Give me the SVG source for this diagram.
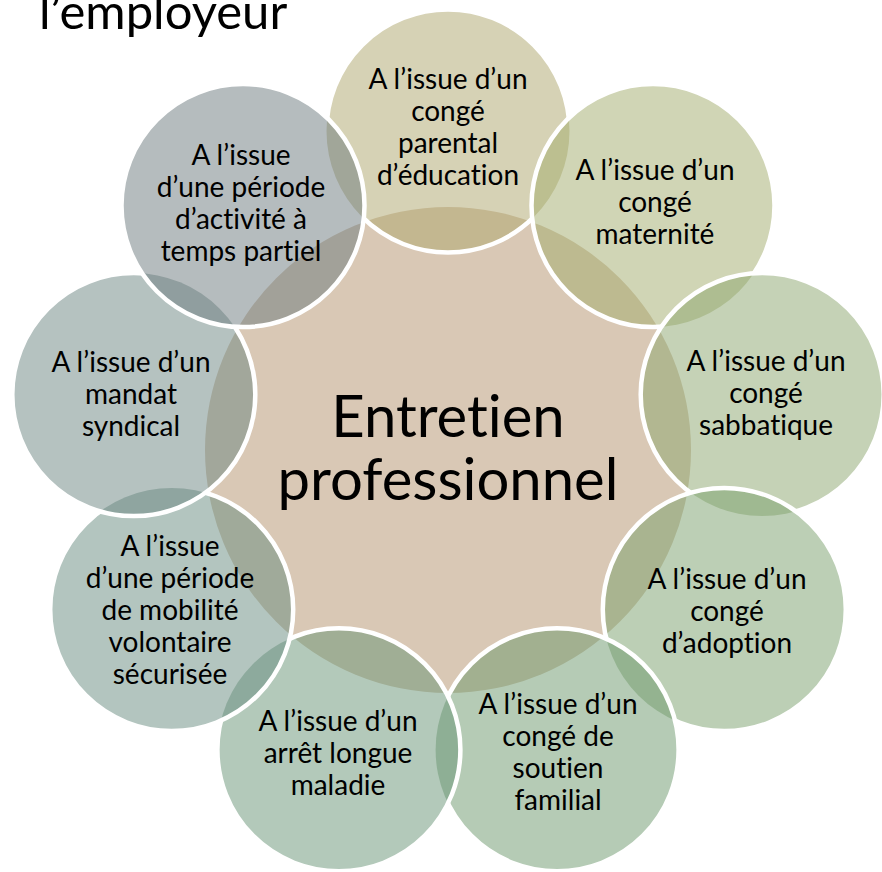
<svg xmlns="http://www.w3.org/2000/svg" width="882" height="872" viewBox="0 0 882 872">
  <style>
    .hub { fill: #D9C8B5; }
    .disc { fill-opacity: 0.5; }
    .rim { fill: none; stroke: #FFFFFF; stroke-width: 4.5; }
    text { font-family: Lato, "Open Sans", sans-serif; fill: #000; font-variant-ligatures: none; font-feature-settings: "liga" 0, "clig" 0; }
    .lbl { font-size: 28px; text-anchor: middle; }
    .hubtxt { font-size: 58px; text-anchor: middle; }
    .title { font-size: 49px; }
  </style>
  <defs>
    <!-- each rim is hidden where the next disc (drawn above it) lies -->
    <mask id="m0" maskUnits="userSpaceOnUse" x="0" y="0" width="882" height="872">
      <rect width="882" height="872" fill="#fff"/>
      <circle cx="653" cy="205.6" r="121.5" fill="#000"/>
      <circle cx="243" cy="205.6" r="121.5" fill="#000"/>
    </mask>
    <mask id="m1" maskUnits="userSpaceOnUse" x="0" y="0" width="882" height="872">
      <rect width="882" height="872" fill="#fff"/>
      <circle cx="762.2" cy="394.6" r="121.5" fill="#000"/>
    </mask>
    <mask id="m2" maskUnits="userSpaceOnUse" x="0" y="0" width="882" height="872">
      <rect width="882" height="872" fill="#fff"/>
      <circle cx="724.3" cy="609.5" r="121.5" fill="#000"/>
    </mask>
    <mask id="m3" maskUnits="userSpaceOnUse" x="0" y="0" width="882" height="872">
      <rect width="882" height="872" fill="#fff"/>
      <circle cx="557.1" cy="749.8" r="121.5" fill="#000"/>
    </mask>
    <mask id="m4" maskUnits="userSpaceOnUse" x="0" y="0" width="882" height="872">
      <rect width="882" height="872" fill="#fff"/>
      <circle cx="338.9" cy="749.8" r="121.5" fill="#000"/>
    </mask>
    <mask id="m5" maskUnits="userSpaceOnUse" x="0" y="0" width="882" height="872">
      <rect width="882" height="872" fill="#fff"/>
      <circle cx="171.7" cy="609.5" r="121.5" fill="#000"/>
    </mask>
    <mask id="m6" maskUnits="userSpaceOnUse" x="0" y="0" width="882" height="872">
      <rect width="882" height="872" fill="#fff"/>
      <circle cx="133.8" cy="394.6" r="121.5" fill="#000"/>
    </mask>
    <mask id="m7" maskUnits="userSpaceOnUse" x="0" y="0" width="882" height="872">
      <rect width="882" height="872" fill="#fff"/>
      <circle cx="243" cy="205.6" r="121.5" fill="#000"/>
    </mask>
  </defs>

  <rect width="882" height="872" fill="#FFFFFF"/>

  <text class="title" x="39" y="29">l’employeur</text>

  <g id="hub">
    <circle class="hub" cx="448" cy="450" r="243"/>
  </g>

  <g id="conge-parental">
    <circle class="disc" cx="448" cy="131" r="121.5" fill="#ADA56B"/>
    <circle class="rim" cx="448" cy="131" r="121.5" mask="url(#m0)"/>
    <text class="lbl"><tspan x="448" y="89">A l’issue d’un</tspan><tspan x="448" y="121">congé</tspan><tspan x="448" y="153">parental</tspan><tspan x="448" y="185">d’éducation</tspan></text>
  </g>

  <g id="conge-maternite">
    <circle class="disc" cx="653" cy="205.6" r="121.5" fill="#A1AB6B"/>
    <circle class="rim" cx="653" cy="205.6" r="121.5" mask="url(#m1)"/>
    <text class="lbl"><tspan x="655" y="180">A l’issue d’un</tspan><tspan x="655" y="212">congé</tspan><tspan x="655" y="244">maternité</tspan></text>
  </g>

  <g id="conge-sabbatique">
    <circle class="disc" cx="762.2" cy="394.6" r="121.5" fill="#8BA56D"/>
    <circle class="rim" cx="762.2" cy="394.6" r="121.5" mask="url(#m2)"/>
    <text class="lbl"><tspan x="766" y="371">A l’issue d’un</tspan><tspan x="766" y="403">congé</tspan><tspan x="766" y="435">sabbatique</tspan></text>
  </g>

  <g id="conge-adoption">
    <circle class="disc" cx="724.3" cy="609.5" r="121.5" fill="#799F6B"/>
    <circle class="rim" cx="724.3" cy="609.5" r="121.5" mask="url(#m3)"/>
    <text class="lbl"><tspan x="727" y="589">A l’issue d’un</tspan><tspan x="727" y="621">congé</tspan><tspan x="727" y="653">d’adoption</tspan></text>
  </g>

  <g id="conge-soutien-familial">
    <circle class="disc" cx="557.1" cy="749.8" r="121.5" fill="#6B976B"/>
    <circle class="rim" cx="557.1" cy="749.8" r="121.5" mask="url(#m4)"/>
    <text class="lbl"><tspan x="558" y="714">A l’issue d’un</tspan><tspan x="558" y="746">congé de</tspan><tspan x="558" y="778">soutien</tspan><tspan x="558" y="810">familial</tspan></text>
  </g>

  <g id="arret-longue-maladie">
    <circle class="disc" cx="338.9" cy="749.8" r="121.5" fill="#679375"/>
    <circle class="rim" cx="338.9" cy="749.8" r="121.5" mask="url(#m5)"/>
    <text class="lbl"><tspan x="338" y="731">A l’issue d’un</tspan><tspan x="338" y="763">arrêt longue</tspan><tspan x="338" y="795">maladie</tspan></text>
  </g>

  <g id="mobilite-volontaire">
    <circle class="disc" cx="171.7" cy="609.5" r="121.5" fill="#678B7F"/>
    <circle class="rim" cx="171.7" cy="609.5" r="121.5" mask="url(#m6)"/>
    <text class="lbl"><tspan x="170" y="556">A l’issue</tspan><tspan x="170" y="588">d’une période</tspan><tspan x="170" y="620">de mobilité</tspan><tspan x="170" y="652">volontaire</tspan><tspan x="170" y="684">sécurisée</tspan></text>
  </g>

  <g id="mandat-syndical">
    <circle class="disc" cx="133.8" cy="394.6" r="121.5" fill="#6B8581"/>
    <circle class="rim" cx="133.8" cy="394.6" r="121.5" mask="url(#m7)"/>
    <text class="lbl"><tspan x="131" y="372">A l’issue d’un</tspan><tspan x="131" y="404">mandat</tspan><tspan x="131" y="436">syndical</tspan></text>
  </g>

  <g id="temps-partiel">
    <circle class="disc" cx="243" cy="205.6" r="121.5" fill="#6B797D"/>
    <circle class="rim" cx="243" cy="205.6" r="121.5"/>
    <text class="lbl"><tspan x="241" y="165">A l’issue</tspan><tspan x="241" y="197">d’une période</tspan><tspan x="241" y="229">d’activité à</tspan><tspan x="241" y="261">temps partiel</tspan></text>
  </g>

  <g id="hub-label">
    <text class="hubtxt"><tspan x="448" y="437">Entretien</tspan><tspan x="448" y="500">professionnel</tspan></text>
  </g>
</svg>
